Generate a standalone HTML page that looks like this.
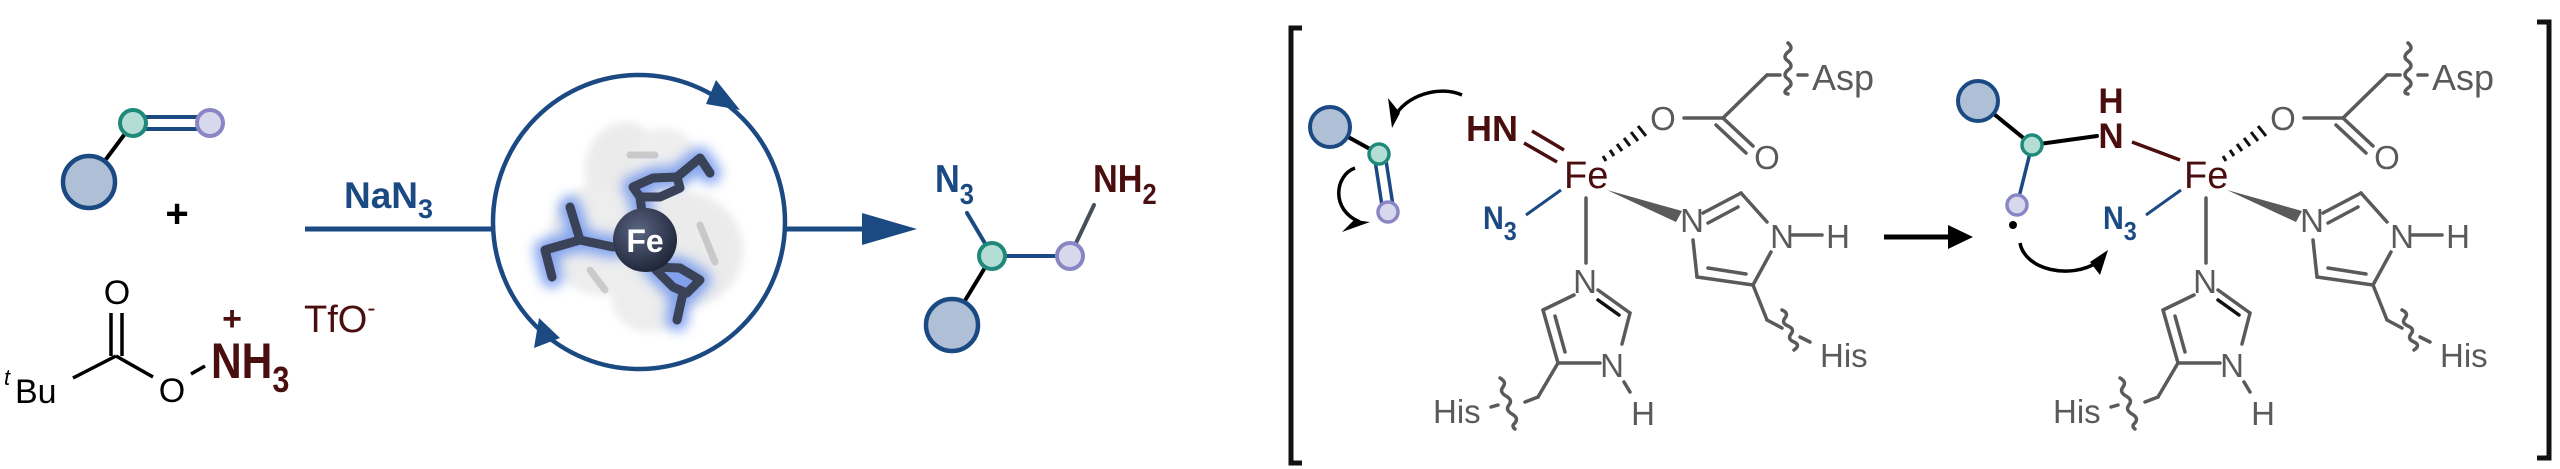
<!DOCTYPE html>
<html><head><meta charset="utf-8"><style>
html,body{margin:0;padding:0;background:#fff;}
svg{display:block;}
text{font-family:"Liberation Sans",Arial,sans-serif;}
</style></head><body>
<svg width="2560" height="469" viewBox="0 0 2560 469" xmlns="http://www.w3.org/2000/svg">
<defs>
<filter id="glow" x="-30%" y="-30%" width="160%" height="160%"><feGaussianBlur stdDeviation="6"/></filter>
<filter id="blur2"><feGaussianBlur stdDeviation="4"/></filter>
<radialGradient id="feg" cx="40%" cy="35%" r="70%"><stop offset="0" stop-color="#5a6580"/><stop offset="1" stop-color="#1c2336"/></radialGradient>
</defs>

<!-- ============ LEFT: alkene + reagent ============ -->
<g stroke-linecap="round">
<line x1="89" y1="182" x2="133" y2="123" stroke="#000" stroke-width="4"/>
<line x1="133" y1="117" x2="210" y2="117" stroke="#1b4a83" stroke-width="4"/>
<line x1="133" y1="129" x2="210" y2="129" stroke="#1b4a83" stroke-width="4"/>
<circle cx="89" cy="182" r="26" fill="#aebfd6" stroke="#1b4a83" stroke-width="4.5"/>
<circle cx="133" cy="123" r="13" fill="#b4ddd5" stroke="#1f8a7a" stroke-width="4"/>
<circle cx="210" cy="123" r="13" fill="#d8d8ec" stroke="#8a86c6" stroke-width="4"/>
</g>
<text x="177" y="227" font-size="40" font-weight="bold" text-anchor="middle" fill="#000">+</text>

<!-- tBu ester -->
<g stroke="#000" stroke-width="3.5" fill="none">
<line x1="111" y1="313" x2="111" y2="356"/>
<line x1="122" y1="313" x2="122" y2="356"/>
<line x1="73" y1="378" x2="116" y2="356"/>
<line x1="116" y1="356" x2="153" y2="377"/>
<line x1="191" y1="374" x2="205" y2="366"/>
</g>
<text x="117" y="304" font-size="34" text-anchor="middle" fill="#000">O</text>
<text x="4" y="385" font-size="22" font-style="italic" fill="#000">t</text>
<text x="15" y="403" font-size="34" fill="#000">Bu</text>
<text x="172" y="402" font-size="34" text-anchor="middle" fill="#000">O</text>
<text x="211" y="378" font-size="50" font-weight="bold" fill="#4a0e0e" transform="translate(211 378) scale(0.85 1) translate(-211 -378)">NH<tspan font-size="36" dy="14">3</tspan></text>
<text x="232" y="330" font-size="34" font-weight="bold" text-anchor="middle" fill="#4a0e0e">+</text>
<text x="304" y="332" font-size="38" fill="#4a0e0e">TfO<tspan font-size="24" dy="-16">-</tspan></text>

<!-- arrow in -->
<line x1="305" y1="229" x2="494" y2="229" stroke="#1b4a83" stroke-width="5"/>
<text x="344" y="208" font-size="37" font-weight="bold" fill="#1b4a83">NaN<tspan font-size="27" dy="10">3</tspan></text>

<!-- cycle circle -->
<ellipse cx="639" cy="222" rx="146" ry="147" fill="none" stroke="#1b4a83" stroke-width="4.5"/>
<polygon points="716,80 740,110 706,104" fill="#1b4a83"/>
<polygon points="560,338 534,348 539,318" fill="#1b4a83"/>

<!-- protein blob -->
<g opacity="0.35" filter="url(#blur2)">
<ellipse cx="625" cy="170" rx="40" ry="48" fill="#c8c8c8"/>
<ellipse cx="600" cy="240" rx="52" ry="55" fill="#cccccc"/>
<ellipse cx="685" cy="250" rx="58" ry="58" fill="#c8c8c8"/>
<ellipse cx="650" cy="300" rx="38" ry="32" fill="#cccccc"/>
<ellipse cx="665" cy="160" rx="32" ry="32" fill="#d0d0d0"/>
</g>
<g opacity="0.35" stroke="#8a8a8a" stroke-width="7" stroke-linecap="round" fill="none">
<line x1="630" y1="155" x2="655" y2="155"/>
<line x1="700" y1="225" x2="715" y2="262"/>
<line x1="590" y1="270" x2="605" y2="290"/>
</g>
<!-- glow -->
<g filter="url(#glow)" stroke="#6f95ee" stroke-width="22" fill="none" stroke-linecap="round" stroke-linejoin="round" opacity="0.85">
<polyline points="645,240 613,247 580,240 545,250 552,277"/>
<line x1="580" y1="240" x2="570" y2="207"/>
<polyline points="645,240 640,197 633,187 653,178 677,177 700,158 710,173"/>
<polyline points="645,240 653,267 673,287 687,293 700,280 680,268 653,267"/>
<line x1="680" y1="293" x2="677" y2="320"/>
</g>
<!-- sticks -->
<g stroke="#3a4257" stroke-width="9" fill="none" stroke-linecap="round" stroke-linejoin="round">
<polyline points="645,240 613,247 580,240 545,250 552,277"/>
<line x1="580" y1="240" x2="570" y2="207"/>
<polyline points="645,235 640,197 633,187 653,178 677,177 680,188 660,197 640,197"/>
<polyline points="677,177 700,158 710,173"/>
<polyline points="645,245 653,267 673,287 687,293 700,280 680,268 653,267"/>
<line x1="683" y1="293" x2="677" y2="320"/>
</g>
<circle cx="645" cy="240" r="32" fill="url(#feg)"/>
<text x="645" y="252" font-size="32" font-weight="bold" text-anchor="middle" fill="#fff">Fe</text>

<!-- arrow out -->
<line x1="785" y1="229" x2="870" y2="229" stroke="#1b4a83" stroke-width="5"/>
<polygon points="862,213 917,229 862,245" fill="#1b4a83"/>

<!-- product -->
<g stroke-linecap="round">
<line x1="967" y1="213" x2="986" y2="245" stroke="#1b4a83" stroke-width="4"/>
<line x1="1094" y1="205" x2="1076" y2="243" stroke="#45505c" stroke-width="4"/>
<line x1="992" y1="256" x2="952" y2="322" stroke="#000" stroke-width="4"/>
<line x1="992" y1="256" x2="1070" y2="256" stroke="#1b4a83" stroke-width="4"/>
<circle cx="952" cy="325" r="26" fill="#aebfd6" stroke="#1b4a83" stroke-width="4.5"/>
<circle cx="992" cy="256" r="13" fill="#b4ddd5" stroke="#1f8a7a" stroke-width="4"/>
<circle cx="1070" cy="256" r="13" fill="#d8d8ec" stroke="#8a86c6" stroke-width="4"/>
</g>
<text x="935" y="192" font-size="39" font-weight="bold" fill="#1b4a83" transform="translate(935 192) scale(0.88 1) translate(-935 -192)">N<tspan font-size="29" dy="12">3</tspan></text>
<text x="1093" y="192" font-size="39" font-weight="bold" fill="#4a0e0e" transform="translate(1093 192) scale(0.88 1) translate(-1093 -192)">NH<tspan font-size="29" dy="12">2</tspan></text>

<!-- ============ BRACKETS ============ -->
<g stroke="#111" stroke-width="5" fill="none">
<polyline points="1302,28 1291,28 1291,463 1302,463"/>
<polyline points="2537,22 2549,22 2549,458 2537,458"/>
</g>

<!-- ============ LEFT INTERMEDIATE substrate ============ -->
<g stroke-linecap="round">
<line x1="1330" y1="127" x2="1379" y2="154" stroke="#000" stroke-width="4"/>
<line x1="1374" y1="154" x2="1383" y2="212" stroke="#1b4a83" stroke-width="3.5"/>
<line x1="1385" y1="154" x2="1394" y2="212" stroke="#1b4a83" stroke-width="3.5"/>
<circle cx="1330" cy="127" r="20" fill="#aebfd6" stroke="#1b4a83" stroke-width="4"/>
<circle cx="1379" cy="154" r="10" fill="#b4ddd5" stroke="#1f8a7a" stroke-width="3.5"/>
<circle cx="1388" cy="212" r="10" fill="#d8d8ec" stroke="#8a86c6" stroke-width="3.5"/>
</g>
<g fill="none" stroke="#000" stroke-width="3.5">
<path d="M1462,95 C1440,85 1405,95 1394,118"/>
<path d="M1355,168 C1335,175 1330,210 1360,222"/>
</g>
<polygon points="1388,98 1400,113 1392,128" fill="#000"/>
<polygon points="1342,232 1354,220 1370,222" fill="#000"/>

<!-- HN=Fe -->
<text x="1466" y="141" font-size="36" font-weight="bold" fill="#4a0e0e">HN</text>
<g stroke="#4a0e0e" stroke-width="3.5">
<line x1="1532" y1="131" x2="1564" y2="150"/>
<line x1="1524" y1="143" x2="1557" y2="162"/>
</g>

<!-- shared Fe core -->
<g id="core">
<text x="1564" y="188" font-size="38" fill="#4a0e0e">Fe</text>
<line x1="1561" y1="190" x2="1526" y2="215" stroke="#1b4a83" stroke-width="3"/>
<text x="1483" y="229" font-size="32" font-weight="bold" fill="#1b4a83" transform="translate(1483 229) scale(0.9 1) translate(-1483 -229)">N<tspan font-size="26" dy="11">3</tspan></text>
<g stroke="#111" stroke-width="3">
<line x1="1606" y1="161" x2="1603" y2="156"/>
<line x1="1614" y1="156" x2="1610" y2="150"/>
<line x1="1622" y1="151" x2="1617" y2="144"/>
<line x1="1630" y1="146" x2="1624" y2="138"/>
<line x1="1638" y1="141" x2="1631" y2="132"/>
<line x1="1646" y1="136" x2="1638" y2="126"/>
</g>
<polygon points="1607,190 1682,211 1676,222" fill="#5a5a5a"/>
<g stroke="#5a5a5a" stroke-width="3.5" fill="none" stroke-linecap="round">
<line x1="1684" y1="118" x2="1723" y2="118"/>
<line x1="1723" y1="118" x2="1767" y2="75"/>
<line x1="1767" y1="75" x2="1780" y2="75"/>
<path d="M1788,43 q6,5 0,9 q-6,5 0,9 q6,5 0,9 q-6,5 0,9 q6,5 0,9 q-6,5 0,6"/>
<line x1="1798" y1="75" x2="1807" y2="75"/>
<line x1="1723" y1="118" x2="1753" y2="146"/>
<line x1="1716" y1="125" x2="1746" y2="153"/>
<line x1="1586" y1="198" x2="1586" y2="263"/>
<line x1="1703" y1="213" x2="1741" y2="193"/>
<line x1="1708" y1="223" x2="1738" y2="207"/>
<line x1="1741" y1="193" x2="1767" y2="222"/>
<line x1="1792" y1="235" x2="1822" y2="235"/>
<line x1="1771" y1="252" x2="1753" y2="285"/>
<line x1="1753" y1="285" x2="1697" y2="277"/>
<line x1="1746" y1="274" x2="1708" y2="268"/>
<line x1="1697" y1="277" x2="1693" y2="240"/>
<line x1="1753" y1="285" x2="1767" y2="320"/>
<line x1="1767" y1="320" x2="1782" y2="328"/>
<path d="M1782,310 q7,3 3,8 q-4,5 3,8 q7,3 3,8 q-4,5 3,8 q7,3 0,8"/>
<line x1="1800" y1="337" x2="1810" y2="342"/>
<line x1="1598" y1="290" x2="1630" y2="313"/>
<line x1="1598" y1="300" x2="1619" y2="315" stroke="#111"/>
<line x1="1630" y1="313" x2="1622" y2="344"/>
<line x1="1624" y1="382" x2="1630" y2="392"/>
<line x1="1600" y1="363" x2="1558" y2="363"/>
<line x1="1558" y1="363" x2="1543" y2="310"/>
<line x1="1565" y1="352" x2="1555" y2="316"/>
<line x1="1543" y1="310" x2="1574" y2="295"/>
<line x1="1558" y1="363" x2="1538" y2="397"/>
<line x1="1538" y1="397" x2="1525" y2="402"/>
<path d="M1500,378 q7,4 3,9 q-4,5 3,9 q7,4 3,9 q-4,5 3,9 q7,4 3,9 q-4,3 0,6"/>
<line x1="1498" y1="405" x2="1491" y2="407"/>
</g>
<g fill="#5a5a5a" font-size="33">
<text x="1663" y="130" text-anchor="middle">O</text>
<text x="1767" y="169" text-anchor="middle">O</text>
<text x="1812" y="90" font-size="36">Asp</text>
<text x="1692" y="232" text-anchor="middle">N</text>
<text x="1782" y="248" text-anchor="middle">N</text>
<text x="1838" y="248" text-anchor="middle">H</text>
<text x="1820" y="367">His</text>
<text x="1585" y="293" text-anchor="middle">N</text>
<text x="1612" y="377" text-anchor="middle">N</text>
<text x="1643" y="425" text-anchor="middle">H</text>
<text x="1433" y="423">His</text>
</g>
</g>

<!-- reaction arrow -->
<line x1="1884" y1="237" x2="1955" y2="237" stroke="#000" stroke-width="5"/>
<polygon points="1948,225 1973,237 1948,249" fill="#000"/>

<use href="#core" transform="translate(620 0)"/>

<!-- RIGHT INTERMEDIATE substrate -->
<g stroke-linecap="round">
<line x1="1978" y1="101" x2="2032" y2="145" stroke="#000" stroke-width="4"/>
<line x1="2032" y1="145" x2="2097" y2="136" stroke="#000" stroke-width="4"/>
<line x1="2032" y1="145" x2="2017" y2="205" stroke="#1b4a83" stroke-width="3.5"/>
<circle cx="1978" cy="101" r="20" fill="#aebfd6" stroke="#1b4a83" stroke-width="4"/>
<circle cx="2032" cy="145" r="10" fill="#b4ddd5" stroke="#1f8a7a" stroke-width="3.5"/>
<circle cx="2017" cy="205" r="10" fill="#d8d8ec" stroke="#8a86c6" stroke-width="3.5"/>
</g>
<circle cx="2013" cy="225" r="4" fill="#000"/>
<line x1="2132" y1="142" x2="2180" y2="160" stroke="#4a0e0e" stroke-width="3.5"/>
<text x="2111" y="113" font-size="35" font-weight="bold" text-anchor="middle" fill="#4a0e0e">H</text>
<text x="2111" y="148" font-size="35" font-weight="bold" text-anchor="middle" fill="#4a0e0e">N</text>
<path d="M2020,243 C2025,270 2070,280 2098,262" fill="none" stroke="#000" stroke-width="3.5"/>
<polygon points="2108,250 2100,275 2090,262" fill="#000"/>
</svg>
</body></html>
